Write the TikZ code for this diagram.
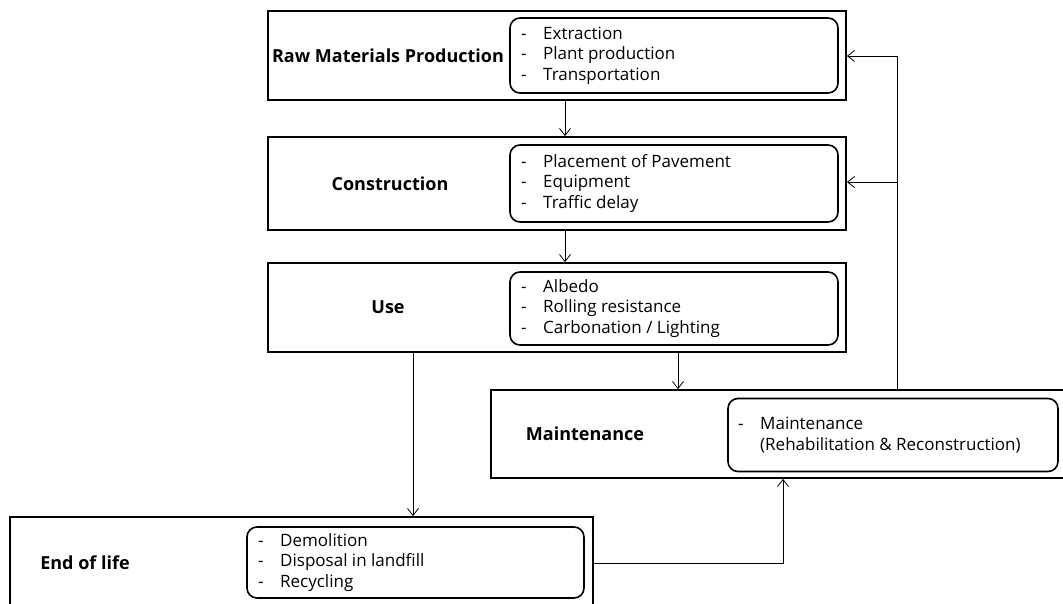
\documentclass[tikz,border=0pt]{standalone}
\usepackage{fontspec}
\setmainfont{Open Sans}
\usetikzlibrary{arrows.meta}
\begin{document}
\begin{tikzpicture}[x=1pt,y=-1pt,
  outerbox/.style={draw, line width=1.8pt, rectangle, inner sep=0pt},
  innerbox/.style={draw, line width=1.6pt, rectangle, rounded corners=10pt, inner sep=0pt},
  stagelabel/.style={font=\fontsize{18}{21}\selectfont\bfseries, inner sep=0pt},
  itemlist/.style={font=\fontsize{17}{20.5}\selectfont, align=left, inner sep=0pt, anchor=west},
  flow/.style={line width=0.8pt, -{Straight Barb[length=7pt,width=11pt,line width=0.8pt]}}
]
\useasboundingbox (0,0) rectangle (1063,603);
\clip (0,0) rectangle (1063,603);
\newcommand{\itm}{\makebox[22pt][l]{-}}

% Raw materials
\node[outerbox, minimum width=578pt, minimum height=89pt] (raw) at (557,55.5) {};
\node[innerbox, minimum width=328pt, minimum height=75pt] (rawin) at (674,55.5) {};
\node[stagelabel] (rawlab) at (388,55.5) {Raw Materials Production};
\node[itemlist] (rawtxt) at (521,55.5) {\itm Extraction\\ \itm Plant production\\ \itm Transportation};

% Construction
\node[outerbox, minimum width=578pt, minimum height=93pt] (con) at (557,183.5) {};
\node[innerbox, minimum width=328pt, minimum height=77pt] (conin) at (674,183.5) {};
\node[stagelabel] (conlab) at (390,183.5) {Construction};
\node[itemlist] (contxt) at (521,183.5) {\itm Placement of Pavement\\ \itm Equipment\\ \itm Traffic delay};

% Use
\node[outerbox, minimum width=578pt, minimum height=89pt] (use) at (557,307.5) {};
\node[innerbox, minimum width=328pt, minimum height=73pt] (usein) at (674,308.5) {};
\node[stagelabel] (uselab) at (388,307.5) {Use};
\node[itemlist] (usetxt) at (521,308.5) {\itm Albedo\\ \itm Rolling resistance\\ \itm Carbonation / Lighting};

% Maintenance
\node[outerbox, minimum width=575pt, minimum height=88pt] (mnt) at (778.5,434) {};
\node[innerbox, minimum width=330pt, minimum height=73pt] (mntin) at (893,435) {};
\node[stagelabel] (mntlab) at (585,434) {Maintenance};
\node[itemlist] (mnttxt) at (738,435) {\itm Maintenance\\ \hspace*{22pt}(Rehabilitation \& Reconstruction)};

% End of life
\node[outerbox, minimum width=583pt, minimum height=91pt] (eol) at (301.5,562.5) {};
\node[innerbox, minimum width=337pt, minimum height=71pt] (eolin) at (415.5,562.5) {};
\node[stagelabel] (eollab) at (85,563) {End of life};
\node[itemlist] (eoltxt) at (258,562.5) {\itm Demolition\\ \itm Disposal in landfill\\ \itm Recycling};

% connectors
\draw[flow] (raw.south -| 565,0) -- (con.north -| 565,0);
\draw[flow] (con.south -| 565,0) -- (use.north -| 565,0);
\draw[flow] (use.south -| 678,0) -- (mnt.north -| 678,0);
\draw[flow] (use.south -| 413,0) -- (eol.north -| 413,0);
\coordinate (fbtop) at (897,56);
\coordinate (fbmid) at (897,182);
\draw[line width=0.8pt] (mnt.north -| fbtop) -- (fbtop);
\draw[flow] (fbtop) -- (raw.east |- fbtop);
\draw[flow] (fbmid) -- (con.east |- fbmid);
\coordinate (eolbend) at (783,563);
\draw[flow] (eol.east |- eolbend) -- (eolbend) -- (mnt.south -| eolbend);
\end{tikzpicture}
\end{document}
